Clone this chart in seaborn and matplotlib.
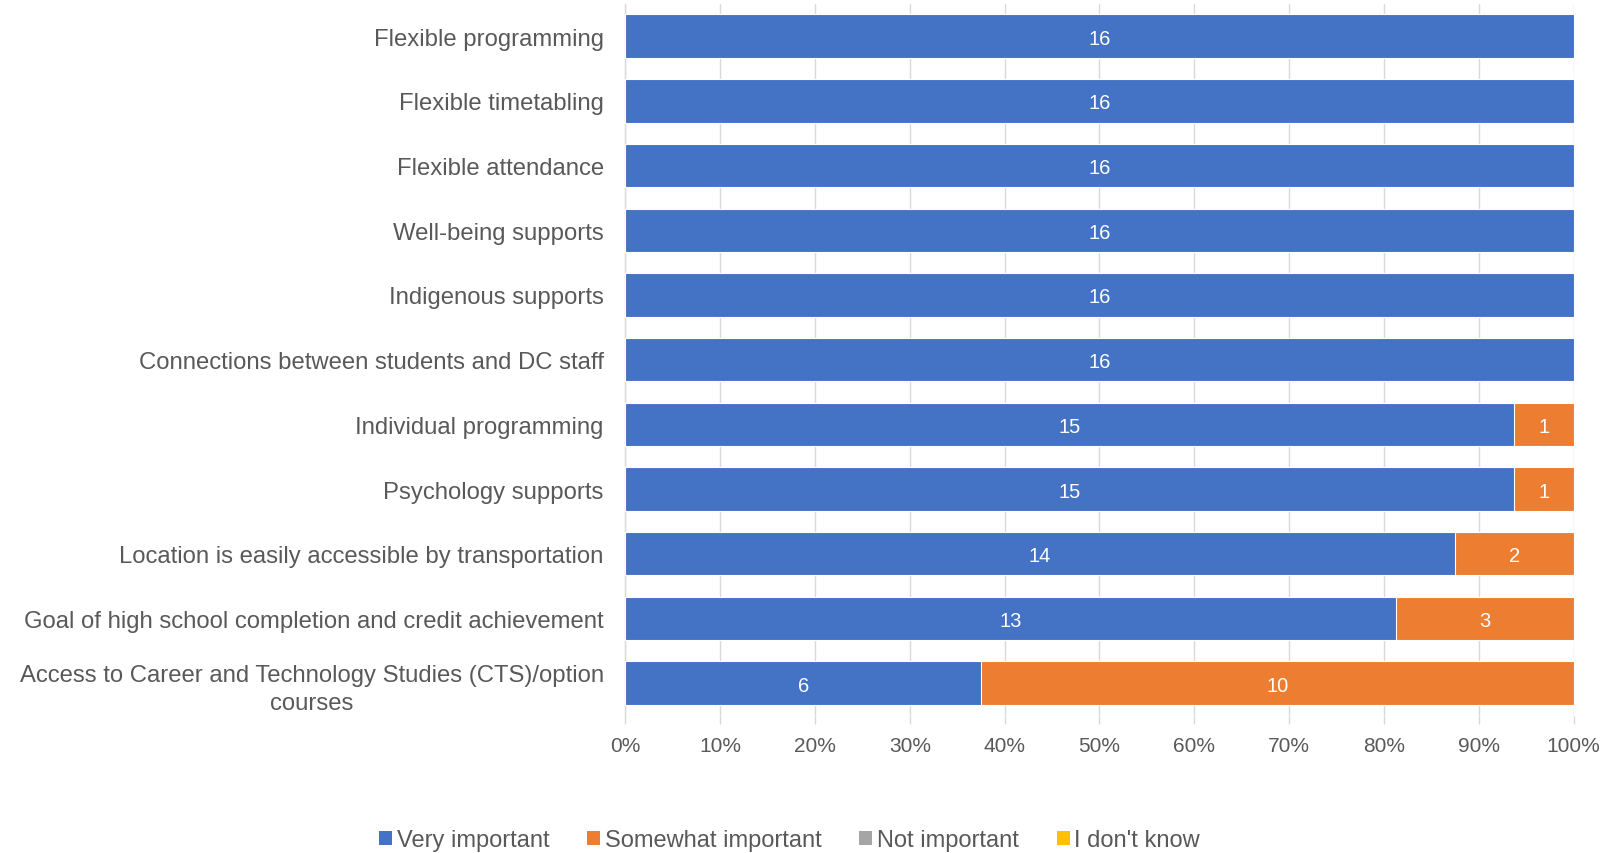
import pandas as pd
import matplotlib.pyplot as plt
import seaborn as sns
from matplotlib.patches import Patch

# data (counts out of 16 respondents)
categories = [
    'Flexible programming',
    'Flexible timetabling',
    'Flexible attendance',
    'Well-being supports',
    'Indigenous supports',
    'Connections between students and DC staff',
    'Individual programming',
    'Psychology supports',
    'Location is easily accessible by transportation',
    'Goal of high school completion and credit achievement',
    'Access to Career and Technology Studies (CTS)/option\ncourses',
]
very_important = [16, 16, 16, 16, 16, 16, 15, 15, 14, 13, 6]
somewhat_important = [0, 0, 0, 0, 0, 0, 1, 1, 2, 3, 10]
not_important = [0] * 11
dont_know = [0] * 11

series_names = ['Very important', 'Somewhat important', 'Not important', "I don't know"]
colors = ['#4472C4', '#ED7D31', '#A5A5A5', '#FFC000']
text_color = '#595959'
grid_color = '#D9D9D9'

df = pd.DataFrame({
    'Category': categories,
    'Very': very_important,
    'Somewhat': somewhat_important,
    'Not': not_important,
    'DK': dont_know,
})
df['Total'] = df[['Very', 'Somewhat', 'Not', 'DK']].sum(axis=1)
df['Very_pct'] = df['Very'] / df['Total'] * 100
df['Cum2_pct'] = (df['Very'] + df['Somewhat']) / df['Total'] * 100

sns.set_style('white')
plt.rcParams['font.family'] = ['Liberation Sans', 'DejaVu Sans']

fig = plt.figure(figsize=(16.18, 8.54), dpi=100)
ax = fig.add_axes([0.3865, 0.161, 0.586, 0.8334])

# stacked bars: draw cumulative widths, largest first
sns.barplot(data=df, y='Category', x='Cum2_pct', color=colors[1], orient='h', saturation=1,
            width=0.67, edgecolor='white', linewidth=0.8, ax=ax, zorder=3)
sns.barplot(data=df, y='Category', x='Very_pct', color=colors[0], orient='h', saturation=1,
            width=0.67, edgecolor='white', linewidth=0.8, ax=ax, zorder=4)

# data labels
for i, row in df.iterrows():
    if row['Very'] > 0:
        ax.text(row['Very_pct'] / 2, i, str(row['Very']), ha='center', va='center_baseline',
                color='white', fontsize=14.5, zorder=5)
    if row['Somewhat'] > 0:
        ax.text((row['Very_pct'] + row['Cum2_pct']) / 2, i, str(row['Somewhat']),
                ha='center', va='center_baseline', color='white', fontsize=14.5, zorder=5)

ax.set_xlim(0, 100)
ax.set_ylim(len(categories) - 0.5, -0.5)
ax.set_xticks(range(0, 101, 10))
ax.set_xticklabels([f'{v}%' for v in range(0, 101, 10)])
ax.set_xlabel('')
ax.set_ylabel('')

ax.grid(axis='x', color=grid_color, linewidth=1, zorder=0)
ax.set_axisbelow(True)
for side in ['top', 'right', 'bottom']:
    ax.spines[side].set_visible(False)
ax.spines['left'].set_color(grid_color)
ax.spines['left'].set_linewidth(1)

ax.tick_params(axis='x', colors=grid_color, labelcolor=text_color, length=6,
               width=1, labelsize=15, pad=9, bottom=True)
ax.tick_params(axis='y', length=0, labelcolor=text_color, labelsize=17.2, pad=15.5)
for lbl in ax.get_yticklabels():
    lbl.set_multialignment('center')
    lbl.set_linespacing(1.35)

handles = [Patch(facecolor=c, edgecolor='none') for c in colors]
fig.legend(handles, series_names, loc='center', bbox_to_anchor=(0.488, 0.015),
           ncol=4, frameon=False, fontsize=17, handlelength=0.55, handleheight=0.55,
           handletextpad=0.2, columnspacing=1.6, labelcolor=text_color)

fig.savefig('out.png', dpi=100)
